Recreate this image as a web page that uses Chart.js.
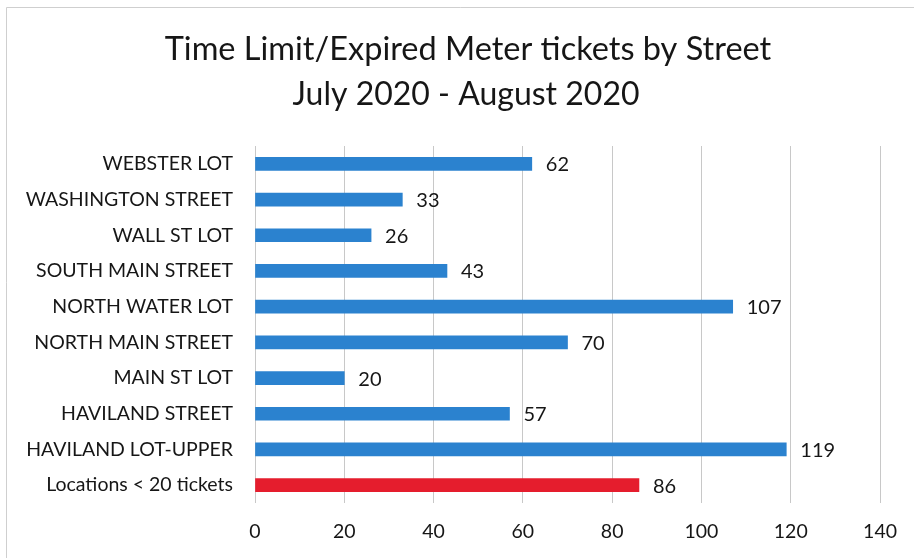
<!DOCTYPE html>
<html>
<head>
<meta charset="utf-8">
<script src="https://cdn.jsdelivr.net/npm/chart.js@4"></script>
<style>
html,body{margin:0;padding:0;background:#fff;}
#wrap{width:914px;height:558px;position:relative;}
</style>
</head>
<body>
<div id="wrap"><canvas id="c" width="914" height="558"></canvas></div>
<script>
const titleLines = ["Time Limit/Expired Meter tickets by Street", "July 2020 - August 2020"];
const categories = ["WEBSTER LOT", "WASHINGTON STREET", "WALL ST LOT", "SOUTH MAIN STREET", "NORTH WATER LOT", "NORTH MAIN STREET", "MAIN ST LOT", "HAVILAND STREET", "HAVILAND LOT-UPPER", "Locations < 20 tickets"];
const tickets = [62, 33, 26, 43, 107, 70, 20, 57, 119, 86];
const barColors = ["#2b82cf","#2b82cf","#2b82cf","#2b82cf","#2b82cf","#2b82cf","#2b82cf","#2b82cf","#2b82cf","#e51d2d"];
const xMin = 0, xMax = 140, xStep = 20;

const FONT = "Lato, 'Open Sans', sans-serif";

const framePlugin = {
  id: 'frame',
  beforeDraw(chart) {
    const ctx = chart.ctx;
    ctx.save();
    ctx.fillStyle = '#fff';
    ctx.fillRect(0, 0, chart.width, chart.height);
    ctx.strokeStyle = '#cfcfcf';
    ctx.lineWidth = 1;
    ctx.beginPath();
    ctx.moveTo(6.5, 558);
    ctx.lineTo(6.5, 7.5);
    ctx.lineTo(914, 7.5);
    ctx.stroke();
    // title
    ctx.fillStyle = '#161616';
    ctx.font = "32.5px " + FONT;
    ctx.textAlign = 'center';
    ctx.textBaseline = 'middle';
    ctx.fillText(titleLines[0], 468, 50);
    ctx.font = "32px " + FONT;
    ctx.fillText(titleLines[1], 466, 95);
    ctx.restore();
  }
};

const labelPlugin = {
  id: 'valueLabels',
  afterDatasetsDraw(chart) {
    const ctx = chart.ctx;
    const meta = chart.getDatasetMeta(0);
    ctx.save();
    ctx.fillStyle = '#161616';
    ctx.font = "20px " + FONT;
    ctx.textAlign = 'left';
    ctx.textBaseline = 'middle';
    meta.data.forEach((bar, i) => {
      ctx.fillText(String(chart.data.datasets[0].data[i]), bar.x + 14, bar.y + 1);
    });
    ctx.restore();
  }
};

new Chart(document.getElementById('c'), {
  type: 'bar',
  data: {
    labels: categories,
    datasets: [{
      data: tickets,
      backgroundColor: barColors,
      borderWidth: 0,
      barThickness: 13
    }]
  },
  options: {
    indexAxis: 'y',
    responsive: false,
    animation: false,
    layout: { padding: { top: 146, right: 32, left: 0, bottom: 0 } },
    plugins: { legend: { display: false }, title: { display: false }, tooltip: { enabled: false } },
    scales: {
      x: {
        min: xMin, max: xMax,
        ticks: { stepSize: xStep, color: '#161616', font: { family: FONT, size: 19.5 }, padding: 17 },
        grid: { color: '#c8c8c8', drawTicks: false, lineWidth: 1 },
        border: { display: false },
        afterFit(axis) { axis.height = 55; }
      },
      y: {
        ticks: { color: '#161616', font: { family: FONT, size: 19.5 }, padding: 22, autoSkip: false },
        grid: { display: false, drawTicks: false },
        border: { display: false },
        afterFit(axis) { axis.width = 255; }
      }
    }
  },
  plugins: [framePlugin, labelPlugin]
});
</script>
</body>
</html>
